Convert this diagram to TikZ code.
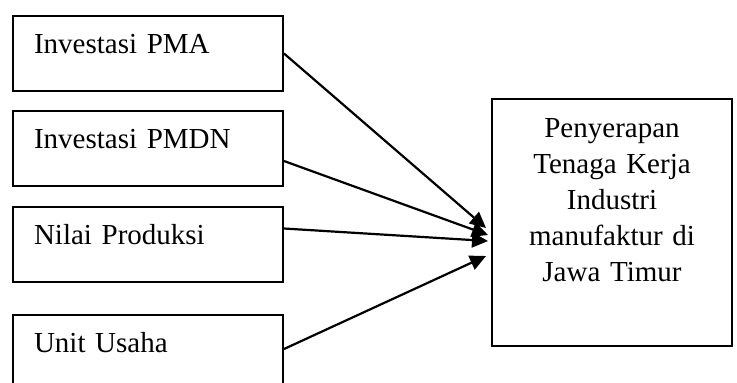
\documentclass[tikz,border=0pt]{standalone}
\usepackage{fontspec}
\setmainfont{Liberation Serif}
\usepackage{tikz}
\usetikzlibrary{calc,arrows.meta}

\tikzset{
  varbox/.style={draw, line width=1pt, anchor=north west, align=left,
    text width=114pt, inner xsep=10.5pt, inner ysep=7pt,
    text height=11.5pt, text depth=12pt, font=\fontsize{14.5}{18}\selectfont},
  tkbox/.style={draw, line width=1pt, anchor=north west, align=center,
    text width=112pt, inner xsep=4pt, inner ysep=7pt,
    text height=12pt, text depth=97.5pt, font=\fontsize{14.5}{18}\selectfont},
  pengaruh/.style={line width=1.1pt, -{Triangle[length=8pt,width=7.5pt]}}
}

\begin{document}
\begin{tikzpicture}[x=0.5pt, y=-0.5pt]
\useasboundingbox (0,0) rectangle (737,382);
\clip (0,0) rectangle (737,382);

\node[varbox] (pma) at (12,15) {Investasi PMA};
\node[varbox] (pmdn) at (12,110) {Investasi PMDN};
\node[varbox] (produksi) at (12,206) {Nilai Produksi};
\node[varbox] (usaha) at (12,314) {Unit Usaha};

\node[tkbox] (tk) at (491,98) {Penyerapan\\ Tenaga Kerja\\ Industri\\ manufaktur di\\ Jawa Timur};

% ujung panah di sisi kiri kotak tenaga kerja
\coordinate (tA) at ($(tk.west)+(-5,5.5)$);
\coordinate (tB) at ($(tk.west)+(-3,12.5)$);
\coordinate (tC) at ($(tk.west)+(-3,18.5)$);
\coordinate (tD) at ($(tk.west)+(-5,33.5)$);

\draw[pengaruh] (pma.east) -- (tA);
\draw[pengaruh] ($(pmdn.east)+(0,12.5)$) -- (tB);
\draw[pengaruh] ($(produksi.east)+(0,-16)$) -- (tC);
\draw[pengaruh] ($(usaha.east)+(0,-3.5)$) -- (tD);
\end{tikzpicture}
\end{document}
